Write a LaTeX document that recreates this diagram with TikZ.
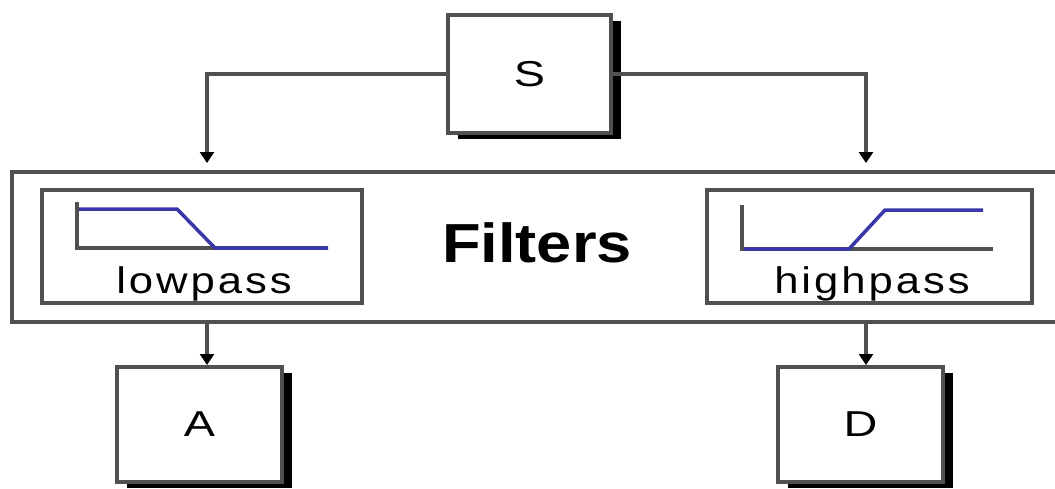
\documentclass[tikz,border=0pt]{standalone}
\usepackage{fontspec}
\setmainfont{Liberation Sans}
\newfontfamily\labfont[FakeStretch=1.18,LetterSpace=8]{Liberation Sans}
\newfontfamily\letfont[FakeStretch=1.3]{Liberation Sans}
\newfontfamily\titfont[FakeStretch=1.15]{Liberation Sans Bold}
\usetikzlibrary{shadows,arrows.meta}
\definecolor{linegray}{RGB}{80,80,80}
\definecolor{curveblue}{RGB}{55,55,170}
\begin{document}
\begin{tikzpicture}[x=1pt,y=-1pt,
  box/.style={draw=linegray,line width=4pt,fill=white,rectangle,inner sep=0pt},
  shbox/.style={box,general shadow={shadow xshift=10pt,shadow yshift=-6pt,fill=black}},
  conn/.style={draw=linegray,line width=3.5pt,-{Triangle[length=11pt,width=14pt,color=black]}},
  letter/.style={font=\letfont\fontsize{36}{36}\selectfont},
  lab/.style={font=\labfont\fontsize{37}{37}\selectfont,anchor=base,inner sep=0pt},
  axis/.style={draw=linegray,line width=4pt},
  curve/.style={draw=curveblue,line width=3.5pt,line join=miter}]
\path[use as bounding box,clip] (0,0) rectangle (1055,488);
\fill[white] (0,0) rectangle (1055,488);
% main boxes
\node[shbox,minimum width=163pt,minimum height=118pt,letter] (S) at (529.5,74) {S};
\node[box,minimum width=1046pt,minimum height=150pt] (F) at (535,247) {};
\node[box,minimum width=320pt,minimum height=113pt] (lp) at (202,246.5) {};
\node[box,minimum width=325pt,minimum height=113pt] (hp) at (869.5,246.5) {};
\node[font=\titfont\fontsize{55}{55}\selectfont,anchor=base,inner sep=0pt] (ft) at (537,262) {Filters};
\node[lab] (lpl) at (204,293) {lowpass};
\node[lab] (hpl) at (872,293) {highpass};
\node[shbox,minimum width=165pt,minimum height=115pt,letter] (A) at (199.5,424.5) {A};
\node[shbox,minimum width=165pt,minimum height=115pt,letter] (D) at (860.5,424.5) {D};
% filter curves
\draw[axis] (77,202) -- (77,248) -- (328,248);
\draw[curve] (79,209) -- (177,209) -- (215,248) -- (328,248);
\draw[axis] (742,205) -- (742,249) -- (993,249);
\draw[curve] (744,249) -- (849,249) -- (885,210) -- (983,210);
% connectors
\coordinate (t1) at (207,163);
\coordinate (t2) at (866,163);
\draw[conn] (S.west) -| (t1);
\draw[conn] (S.east) -| (t2);
\draw[conn] (F.south -| t1) -- (A.north -| t1);
\draw[conn] (F.south -| t2) -- (D.north -| t2);
\end{tikzpicture}
\end{document}
